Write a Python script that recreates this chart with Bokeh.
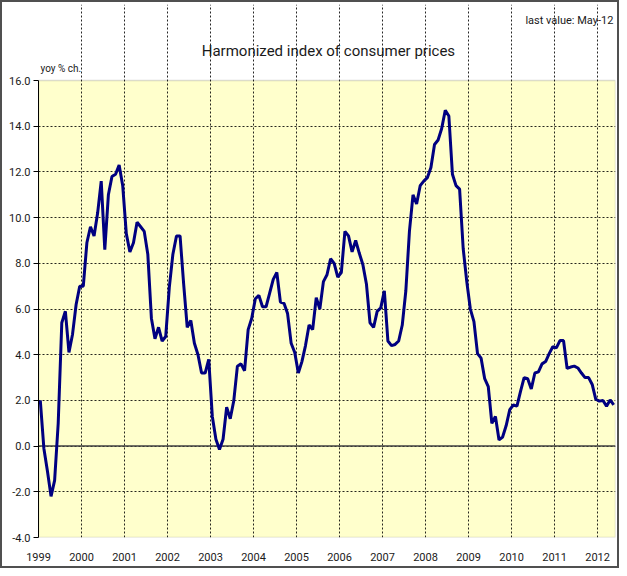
from bokeh.plotting import figure
from bokeh.models import Range1d, FixedTicker, NumeralTickFormatter, Span, Label, BoxAnnotation
from bokeh.embed import file_html
from bokeh.resources import INLINE

# ---- data (monthly, Jan 1999 .. May 2012) ----
years = [str(y) for y in range(1999, 2013)]
y_ticks = [-4, -2, 0, 2, 4, 6, 8, 10, 12, 14, 16]
hicp = [
    # 1999
    2.0, -0.1, -1.1, -2.2, -1.5, 1.0, 5.4, 5.9, 4.1, 4.9, 6.2, 7.0,
    # 2000
    7.0, 8.9, 9.6, 9.2, 10.2, 11.6, 8.6, 11.0, 11.8, 11.9, 12.3, 11.4,
    # 2001
    9.3, 8.5, 8.9, 9.8, 9.6, 9.4, 8.4, 5.6, 4.7, 5.2, 4.6, 4.8,
    # 2002
    6.95, 8.4, 9.2, 9.2, 7.1, 5.2, 5.5, 4.5, 4.0, 3.2, 3.2, 3.8,
    # 2003
    1.3, 0.3, -0.15, 0.3, 1.7, 1.2, 2.0, 3.5, 3.6, 3.3, 5.1, 5.6,
    # 2004
    6.45, 6.6, 6.1, 6.1, 6.7, 7.3, 7.6, 6.3, 6.25, 5.8, 4.5, 4.1,
    # 2005
    3.2, 3.7, 4.4, 5.3, 5.1, 6.5, 6.0, 7.2, 7.5, 8.2, 8.0, 7.4,
    # 2006
    7.6, 9.4, 9.2, 8.5, 9.0, 8.45, 7.95, 7.1, 5.4, 5.2, 5.9, 6.05,
    # 2007
    6.8, 4.6, 4.4, 4.45, 4.6, 5.3, 6.8, 9.4, 11.0, 10.6, 11.4, 11.6,
    # 2008
    11.75, 12.2, 13.2, 13.4, 13.9, 14.7, 14.45, 11.9, 11.4, 11.25, 8.65, 7.2,
    # 2009
    6.0, 5.45, 4.05, 3.85, 2.95, 2.6, 1.0, 1.3, 0.27, 0.4, 0.9, 1.6,
    # 2010
    1.8, 1.75, 2.4, 3.0, 2.95, 2.5, 3.2, 3.25, 3.6, 3.7, 4.05, 4.35,
    # 2011
    4.3, 4.62, 4.62, 3.4, 3.46, 3.5, 3.42, 3.2, 3.0, 3.0, 2.7, 2.05,
    # 2012
    1.97, 2.0, 1.75, 2.02, 1.8,
]
months = [i + 0.5 for i in range(len(hicp))]
year_ticks = [12 * k for k in range(len(years))]
y_min, y_max = -4, 16
n_months = 161

FONT = "Roboto"
TXT = "#1a1a1a"

# frame extends above the value range so the header texts can live inside it
p = figure(
    width=619, height=568,
    output_backend="svg", toolbar_location=None,
    x_range=Range1d(0, n_months), y_range=Range1d(y_min, 19.33),
    min_border_left=36, min_border_right=6,
    min_border_top=2, min_border_bottom=33,
)
p.styles = {"border": "2px solid #505050"}
p.background_fill_color = "white"
p.border_fill_color = "white"
p.outline_line_color = None

# pale-yellow plotting area
p.add_layout(BoxAnnotation(left=0, right=n_months, bottom=y_min, top=y_max,
                           fill_color="#FFFFCC", fill_alpha=1.0,
                           line_color="#8c8c8c", line_width=1.5, level="image"))

# x axis
p.xaxis.ticker = FixedTicker(ticks=year_ticks)
p.xaxis.major_label_overrides = {t: y for t, y in zip(year_ticks, years)}
p.xaxis.major_tick_out = 0
p.xaxis.major_tick_in = 0
p.xaxis.minor_tick_out = 0
p.xaxis.minor_tick_in = 0
p.xaxis.axis_line_color = None
p.xaxis.major_label_standoff = 15
p.xaxis.major_label_text_font = FONT
p.xaxis.major_label_text_font_size = "11px"
p.xaxis.major_label_text_color = TXT

# y axis
p.yaxis.ticker = FixedTicker(ticks=y_ticks)
p.yaxis.formatter = NumeralTickFormatter(format="0.0")
p.yaxis.bounds = (y_min, y_max)
p.yaxis.major_tick_out = 5
p.yaxis.major_tick_in = 0
p.yaxis.minor_tick_out = 0
p.yaxis.minor_tick_in = 0
p.yaxis.axis_line_color = "black"
p.yaxis.major_label_standoff = 3
p.yaxis.major_label_text_font = FONT
p.yaxis.major_label_text_font_size = "11px"
p.yaxis.major_label_text_color = TXT

# grids
p.xgrid.ticker = FixedTicker(ticks=year_ticks)
p.xgrid.bounds = (y_min, y_max)
p.ygrid.ticker = FixedTicker(ticks=y_ticks[1:-1])
for g in (p.xgrid, p.ygrid):
    g.grid_line_color = "black"
    g.grid_line_dash = "2 2"
    g.grid_line_width = 1
    g.grid_line_alpha = 0.85

p.add_layout(Span(location=0, dimension="width", line_color="#404040",
                  line_width=1.5, level="underlay"))

p.line(months, hicp, line_color="#000080", line_width=3)

# texts
p.add_layout(Label(x=80.9, y=17.31, text="Harmonized index of consumer prices",
                   text_align="center", text_baseline="middle",
                   text_font=FONT, text_font_size="15px", text_color=TXT))
p.add_layout(Label(x=160.4, y=18.63, text="last value: May-12",
                   text_align="right", text_baseline="middle",
                   text_font=FONT, text_font_size="11px", text_color=TXT))
p.add_layout(Label(x=0.56, y=16.55, text="yoy % ch.",
                   text_align="left", text_baseline="middle",
                   text_font=FONT, text_font_size="10px", text_color=TXT))

open("out.html", "w").write(file_html(p, INLINE))
